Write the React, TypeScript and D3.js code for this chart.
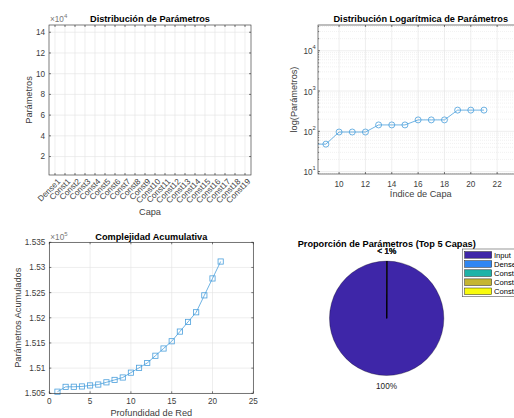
import React from 'react';
import * as d3 from 'd3';

// Layer names and parameter counts of the network
const layerNames = [
  'Input', 'Dense1', 'Const1', 'Const2', 'Const3', 'Const4', 'Const5', 'Const6', 'Const7',
  'Const8', 'Const9', 'Const10', 'Const11', 'Const12', 'Const13', 'Const14', 'Const15',
  'Const16', 'Const17', 'Const18', 'Const19',
];
const layerParams = [
  150532, 96, 2, 6, 20, 18, 44, 48, 48, 96, 96, 96, 144, 144, 144, 192, 192, 192, 336, 336, 336,
];
// Running total of parameters by depth
const cumulativeParams = [
  150532, 150628, 150630, 150636, 150656, 150674, 150718, 150766, 150814, 150910, 151006,
  151102, 151246, 151390, 151534, 151726, 151918, 152110, 152446, 152782, 153118,
];
// Bar chart categories (every layer after the input)
const barLabels = layerNames.slice(1);
const barValues = layerParams.slice(1);
// Ticks
const barYTicks = [20000, 40000, 60000, 80000, 100000, 120000, 140000];
const logXTicks = [10, 12, 14, 16, 18, 20, 22];
const logYDecades = [1, 2, 3, 4];
const cumXTicks = [0, 5, 10, 15, 20, 25];
const cumYTicks = [150500, 151000, 151500, 152000, 152500, 153000, 153500];
// Pie: the first five layers
const pieLabels = ['Input', 'Dense1', 'Const1', 'Const2', 'Const3'];
const pieValues = [150532, 96, 2, 6, 20];
const pieColors = ['#3e26a8', '#2f86f2', '#1fb3a8', '#c5b532', '#f9fb0e'];

const FONT = "'Liberation Sans', Arial, Helvetica, sans-serif";
const AXIS = '#262626';
const TEXT = '#404040';
const GRID = '#e3e3e3';
const LINE = '#4a9fdc';
const TICK = 8.2;
const LABEL = 9.2;
const TITLE = 9.2;
const TL = 2; // tick length

function Frame({ x0, x1, y0, y1 }: { x0: number; x1: number; y0: number; y1: number }) {
  return (
    <rect x={x0} y={y0} width={x1 - x0} height={y1 - y0} fill="none" stroke={AXIS} strokeWidth={0.6} />
  );
}

function BarPanel() {
  const x = d3.scaleLinear().domain([0.4, 20.6]).range([49, 251]);
  const y = d3.scaleLinear().domain([2200, 147000]).range([175, 25]);
  const [x0, x1] = x.range();
  const [y1, y0] = y.range();
  const idx = d3.range(1, barLabels.length + 1);
  return (
    <g>
      <defs>
        <clipPath id="clipBar">
          <rect x={x0} y={y0} width={x1 - x0} height={y1 - y0} />
        </clipPath>
      </defs>
      {idx.map((i) => (
        <line key={'gx' + i} x1={x(i)} x2={x(i)} y1={y0} y2={y1} stroke={GRID} strokeWidth={0.6} />
      ))}
      {barYTicks.map((t) => (
        <line key={'gy' + t} x1={x0} x2={x1} y1={y(t)} y2={y(t)} stroke={GRID} strokeWidth={0.6} />
      ))}
      <g clipPath="url(#clipBar)">
        {barValues.map((v, k) => (
          <rect key={k} x={x(k + 1 - 0.4)} width={x(1.8) - x(1)} y={y(v)} height={Math.max(0, y(0) - y(v))} fill="#0072bd" />
        ))}
      </g>
      <Frame x0={x0} x1={x1} y0={y0} y1={y1} />
      {idx.map((i) => (
        <g key={'tx' + i}>
          <line x1={x(i)} x2={x(i)} y1={y1} y2={y1 - TL} stroke={AXIS} strokeWidth={0.6} />
          <line x1={x(i)} x2={x(i)} y1={y0} y2={y0 + TL} stroke={AXIS} strokeWidth={0.6} />
          <text
            transform={`translate(${x(i) + 2},${y1 + 3}) rotate(-45)`}
            textAnchor="end"
            dy="0.7em"
            fontSize={TICK}
            fill={TEXT}
          >
            {barLabels[i - 1]}
          </text>
        </g>
      ))}
      {barYTicks.map((t) => (
        <g key={'ty' + t}>
          <line x1={x0} x2={x0 + TL} y1={y(t)} y2={y(t)} stroke={AXIS} strokeWidth={0.6} />
          <line x1={x1} x2={x1 - TL} y1={y(t)} y2={y(t)} stroke={AXIS} strokeWidth={0.6} />
          <text x={x0 - 4} y={y(t)} dy="0.35em" textAnchor="end" fontSize={TICK} fill={TEXT}>
            {t / 1e4}
          </text>
        </g>
      ))}
      <text x={x0 + 1} y={22} fontSize={TICK} fill="#777">
        ×10<tspan dy={-4} fontSize={6}>4</tspan>
      </text>
      <text x={(x0 + x1) / 2} y={21.5} textAnchor="middle" fontSize={TITLE} fontWeight="bold" fill="#000">
        Distribución de Parámetros
      </text>
      <text x={(x0 + x1) / 2} y={215} textAnchor="middle" fontSize={LABEL} fill={TEXT}>
        Capa
      </text>
      <text transform={`translate(32,${(y0 + y1) / 2}) rotate(-90)`} textAnchor="middle" fontSize={LABEL} fill={TEXT}>
        Parámetros
      </text>
    </g>
  );
}

function LogPanel() {
  const x = d3.scaleLinear().domain([8.4, 24]).range([318, 523.5]);
  const y = d3.scaleLog().domain([Math.pow(10, 0.94), Math.pow(10, 4.64)]).range([174, 25]);
  const [x0, x1] = x.range();
  const [y1, y0] = y.range();
  const minor: number[] = [];
  [0, 1, 2, 3, 4].forEach((d) => {
    for (let k = 2; k <= 9; k++) {
      const v = k * Math.pow(10, d);
      if (v > y.domain()[0] && v < y.domain()[1]) minor.push(v);
    }
  });
  const pts = layerParams.map((v, i) => ({ i: i + 1, v }));
  const line = d3
    .line<{ i: number; v: number }>()
    .x((d) => x(d.i))
    .y((d) => y(d.v));
  return (
    <g>
      <defs>
        <clipPath id="clipLog">
          <rect x={x0} y={y0} width={x1 - x0} height={y1 - y0} />
        </clipPath>
      </defs>
      {minor.map((v) => (
        <line key={'mg' + v} x1={x0} x2={x1} y1={y(v)} y2={y(v)} stroke="#e8e8e8" strokeWidth={0.6} strokeDasharray="1,1" />
      ))}
      {logXTicks.map((t) => (
        <line key={'gx' + t} x1={x(t)} x2={x(t)} y1={y0} y2={y1} stroke={GRID} strokeWidth={0.6} />
      ))}
      {logYDecades.map((d) => (
        <line key={'gy' + d} x1={x0} x2={x1} y1={y(Math.pow(10, d))} y2={y(Math.pow(10, d))} stroke={GRID} strokeWidth={0.6} />
      ))}
      <g clipPath="url(#clipLog)">
        <path d={line(pts) || ''} fill="none" stroke={LINE} strokeWidth={0.8} />
        {pts.map((p) => (
          <circle key={p.i} cx={x(p.i)} cy={y(p.v)} r={3} fill="none" stroke={LINE} strokeWidth={0.8} />
        ))}
      </g>
      <Frame x0={x0} x1={x1} y0={y0} y1={y1} />
      {logXTicks.map((t) => (
        <g key={'tx' + t}>
          <line x1={x(t)} x2={x(t)} y1={y1} y2={y1 - TL} stroke={AXIS} strokeWidth={0.6} />
          <line x1={x(t)} x2={x(t)} y1={y0} y2={y0 + TL} stroke={AXIS} strokeWidth={0.6} />
          <text x={x(t)} y={187} textAnchor="middle" fontSize={TICK} fill={TEXT}>
            {t}
          </text>
        </g>
      ))}
      {minor.map((v) => (
        <line key={'mt' + v} x1={x0} x2={x0 + 1.2} y1={y(v)} y2={y(v)} stroke={AXIS} strokeWidth={0.5} />
      ))}
      {logYDecades.map((d) => (
        <g key={'ty' + d}>
          <line x1={x0} x2={x0 + TL} y1={y(Math.pow(10, d))} y2={y(Math.pow(10, d))} stroke={AXIS} strokeWidth={0.6} />
          <text x={x0 - 5.5} y={y(Math.pow(10, d))} dy="0.45em" textAnchor="end" fontSize={TICK} fill={TEXT}>
            10
          </text>
          <text x={x0 - 5.5} y={y(Math.pow(10, d)) - 1.5} fontSize={5.8} fill={TEXT}>
            {d}
          </text>
        </g>
      ))}
      <text x={(x0 + x1) / 2} y={21.5} textAnchor="middle" fontSize={TITLE} fontWeight="bold" fill="#000">
        Distribución Logarítmica de Parámetros
      </text>
      <text x={(x0 + x1) / 2} y={197} textAnchor="middle" fontSize={LABEL} fill={TEXT}>
        Índice de Capa
      </text>
      <text transform={`translate(297,${(y0 + y1) / 2}) rotate(-90)`} textAnchor="middle" fontSize={LABEL} fill={TEXT}>
        log(Parámetros)
      </text>
    </g>
  );
}

function CumulativePanel() {
  const x = d3.scaleLinear().domain([0, 25]).range([49.3, 253.3]);
  const y = d3.scaleLinear().domain([150500, 153500]).range([393.3, 242.3]);
  const [x0, x1] = x.range();
  const [y1, y0] = y.range();
  const pts = cumulativeParams.map((v, i) => ({ i: i + 1, v }));
  const line = d3
    .line<{ i: number; v: number }>()
    .x((d) => x(d.i))
    .y((d) => y(d.v));
  const fmt = (t: number) => String(+(t / 1e5).toFixed(3));
  return (
    <g>
      {cumXTicks.map((t) => (
        <line key={'gx' + t} x1={x(t)} x2={x(t)} y1={y0} y2={y1} stroke={GRID} strokeWidth={0.6} />
      ))}
      {cumYTicks.map((t) => (
        <line key={'gy' + t} x1={x0} x2={x1} y1={y(t)} y2={y(t)} stroke={GRID} strokeWidth={0.6} />
      ))}
      <path d={line(pts) || ''} fill="none" stroke={LINE} strokeWidth={0.8} />
      {pts.map((p) => (
        <rect key={p.i} x={x(p.i) - 2.6} y={y(p.v) - 2.6} width={5.2} height={5.2} fill="none" stroke={LINE} strokeWidth={0.8} />
      ))}
      <Frame x0={x0} x1={x1} y0={y0} y1={y1} />
      {cumXTicks.map((t) => (
        <g key={'tx' + t}>
          <line x1={x(t)} x2={x(t)} y1={y1} y2={y1 - TL} stroke={AXIS} strokeWidth={0.6} />
          <line x1={x(t)} x2={x(t)} y1={y0} y2={y0 + TL} stroke={AXIS} strokeWidth={0.6} />
          <text x={x(t)} y={404} textAnchor="middle" fontSize={TICK} fill={TEXT}>
            {t}
          </text>
        </g>
      ))}
      {cumYTicks.map((t) => (
        <g key={'ty' + t}>
          <line x1={x0} x2={x0 + TL} y1={y(t)} y2={y(t)} stroke={AXIS} strokeWidth={0.6} />
          <line x1={x1} x2={x1 - TL} y1={y(t)} y2={y(t)} stroke={AXIS} strokeWidth={0.6} />
          <text x={x0 - 4} y={y(t)} dy="0.35em" textAnchor="end" fontSize={TICK} fill={TEXT}>
            {fmt(t)}
          </text>
        </g>
      ))}
      <text x={x0 + 1} y={240} fontSize={TICK} fill="#777">
        ×10<tspan dy={-4} fontSize={6}>5</tspan>
      </text>
      <text x={(x0 + x1) / 2} y={239.5} textAnchor="middle" fontSize={TITLE} fontWeight="bold" fill="#000">
        Complejidad Acumulativa
      </text>
      <text x={(x0 + x1) / 2} y={416} textAnchor="middle" fontSize={LABEL} fill={TEXT}>
        Profundidad de Red
      </text>
      <text transform={`translate(21,${(y0 + y1) / 2}) rotate(-90)`} textAnchor="middle" fontSize={LABEL} fill={TEXT}>
        Parámetros Acumulados
      </text>
    </g>
  );
}

function PiePanel() {
  const cx = 386.7;
  const cy = 318.3;
  const r = 57.2;
  const total = d3.sum(pieValues);
  const slices = d3.pie<number>().sort(null).value((d) => d)(pieValues);
  const arc = d3.arc<any>().innerRadius(0).outerRadius(r);
  const pct = (v: number) => {
    const p = (v / total) * 100;
    return p < 1 ? '< 1%' : `${Math.round(p)}%`;
  };
  // counter-clockwise from 12 o'clock
  const ccw = slices.map((s) => ({ ...s, startAngle: -s.startAngle, endAngle: -s.endAngle }));
  return (
    <g>
      <g transform={`translate(${cx},${cy})`}>
        {ccw.map((s, i) => (
          <path key={i} d={arc(s) || ''} fill={pieColors[i]} stroke="#000" strokeWidth={0.3} />
        ))}
        {ccw.map((s, i) => {
          const a = (s.startAngle + s.endAngle) / 2;
          const R = r * 1.18;
          return (
            <text key={'l' + i} x={Math.sin(a) * R} y={-Math.cos(a) * R} dy="0.35em" textAnchor="middle" fontSize={TICK} fill="#222">
              {pct(pieValues[i])}
            </text>
          );
        })}
      </g>
      <text x={cx} y={247} textAnchor="middle" fontSize={TITLE} fontWeight="bold" fill="#000">
        Proporción de Parámetros (Top 5 Capas)
      </text>
      <rect x={462.3} y={249} width={80} height={47.7} fill="#fff" stroke="#555" strokeWidth={0.6} />
      {pieLabels.map((name, i) => (
        <g key={name}>
          <rect x={464.7} y={251.6 + i * 9.1} width={27} height={6.6} fill={pieColors[i]} stroke="#222" strokeWidth={0.5} />
          <text x={494} y={255 + i * 9.1} dy="0.35em" fontSize={7.6} fill="#000">
            {name}
          </text>
        </g>
      ))}
    </g>
  );
}

export default function App() {
  return (
    <svg
      width={514}
      height={418}
      viewBox="0 0 514 418"
      style={{ position: 'absolute', left: 0, top: 0, background: '#fff' }}
      fontFamily={FONT}
    >
      <rect width={514} height={418} fill="#fff" />
      <BarPanel />
      <LogPanel />
      <CumulativePanel />
      <PiePanel />
    </svg>
  );
}
